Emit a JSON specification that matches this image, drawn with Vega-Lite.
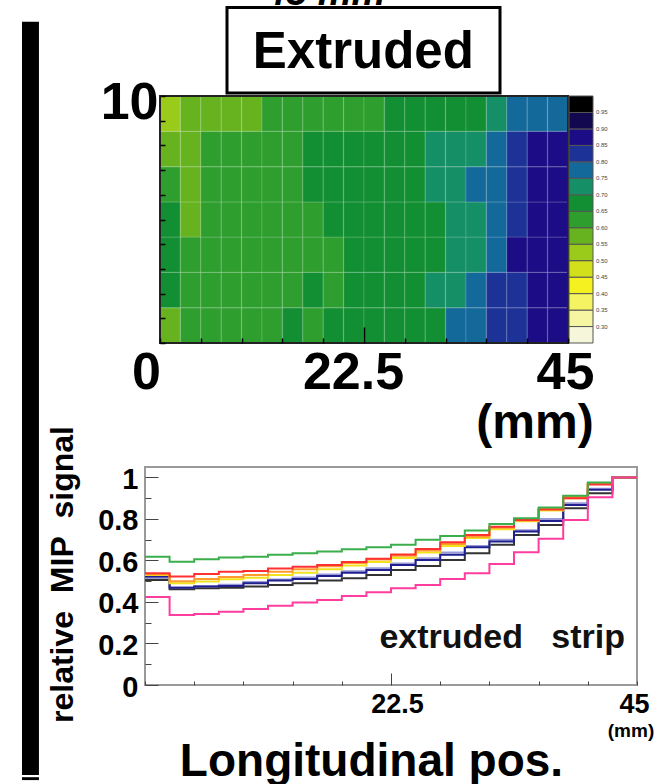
{
  "$schema": "https://vega.github.io/schema/vega-lite/v6.json",
  "width": 670,
  "height": 784,
  "autosize": "none",
  "padding": 0,
  "background": "white",
  "config": {
    "font": "Liberation Sans",
    "view": {"stroke": null},
    "axis": {"labelColor": "#000", "titleColor": "#000", "labelFont": "Liberation Sans", "titleFont": "Liberation Sans", "grid": false, "domain": false}
  },
  "resolve": {
    "scale": {"x": "independent", "y": "independent", "color": "independent"},
    "axis": {"x": "independent", "y": "independent"},
    "legend": {"color": "independent"}
  },
  "layer": [
    {
      "layer": [
        {
          "data": {"values": [
            {"x":0,"x2":2.25,"y":0,"y2":1.43,"v":0.575},{"x":2.25,"x2":4.5,"y":0,"y2":1.43,"v":0.625},{"x":4.5,"x2":6.75,"y":0,"y2":1.43,"v":0.625},{"x":6.75,"x2":9,"y":0,"y2":1.43,"v":0.625},{"x":9,"x2":11.25,"y":0,"y2":1.43,"v":0.625},{"x":11.25,"x2":13.5,"y":0,"y2":1.43,"v":0.625},{"x":13.5,"x2":15.75,"y":0,"y2":1.43,"v":0.675},{"x":15.75,"x2":18,"y":0,"y2":1.43,"v":0.625},{"x":18,"x2":20.25,"y":0,"y2":1.43,"v":0.675},{"x":20.25,"x2":22.5,"y":0,"y2":1.43,"v":0.675},{"x":22.5,"x2":24.75,"y":0,"y2":1.43,"v":0.675},{"x":24.75,"x2":27,"y":0,"y2":1.43,"v":0.675},{"x":27,"x2":29.25,"y":0,"y2":1.43,"v":0.675},{"x":29.25,"x2":31.5,"y":0,"y2":1.43,"v":0.675},{"x":31.5,"x2":33.75,"y":0,"y2":1.43,"v":0.775},{"x":33.75,"x2":36,"y":0,"y2":1.43,"v":0.775},{"x":36,"x2":38.25,"y":0,"y2":1.43,"v":0.825},{"x":38.25,"x2":40.5,"y":0,"y2":1.43,"v":0.825},{"x":40.5,"x2":42.75,"y":0,"y2":1.43,"v":0.875},{"x":42.75,"x2":45,"y":0,"y2":1.43,"v":0.875},
            {"x":0,"x2":2.25,"y":1.43,"y2":2.86,"v":0.675},{"x":2.25,"x2":4.5,"y":1.43,"y2":2.86,"v":0.625},{"x":4.5,"x2":6.75,"y":1.43,"y2":2.86,"v":0.625},{"x":6.75,"x2":9,"y":1.43,"y2":2.86,"v":0.625},{"x":9,"x2":11.25,"y":1.43,"y2":2.86,"v":0.625},{"x":11.25,"x2":13.5,"y":1.43,"y2":2.86,"v":0.625},{"x":13.5,"x2":15.75,"y":1.43,"y2":2.86,"v":0.625},{"x":15.75,"x2":18,"y":1.43,"y2":2.86,"v":0.675},{"x":18,"x2":20.25,"y":1.43,"y2":2.86,"v":0.625},{"x":20.25,"x2":22.5,"y":1.43,"y2":2.86,"v":0.675},{"x":22.5,"x2":24.75,"y":1.43,"y2":2.86,"v":0.675},{"x":24.75,"x2":27,"y":1.43,"y2":2.86,"v":0.675},{"x":27,"x2":29.25,"y":1.43,"y2":2.86,"v":0.675},{"x":29.25,"x2":31.5,"y":1.43,"y2":2.86,"v":0.725},{"x":31.5,"x2":33.75,"y":1.43,"y2":2.86,"v":0.725},{"x":33.75,"x2":36,"y":1.43,"y2":2.86,"v":0.775},{"x":36,"x2":38.25,"y":1.43,"y2":2.86,"v":0.825},{"x":38.25,"x2":40.5,"y":1.43,"y2":2.86,"v":0.825},{"x":40.5,"x2":42.75,"y":1.43,"y2":2.86,"v":0.875},{"x":42.75,"x2":45,"y":1.43,"y2":2.86,"v":0.875},
            {"x":0,"x2":2.25,"y":2.86,"y2":4.29,"v":0.675},{"x":2.25,"x2":4.5,"y":2.86,"y2":4.29,"v":0.625},{"x":4.5,"x2":6.75,"y":2.86,"y2":4.29,"v":0.625},{"x":6.75,"x2":9,"y":2.86,"y2":4.29,"v":0.625},{"x":9,"x2":11.25,"y":2.86,"y2":4.29,"v":0.625},{"x":11.25,"x2":13.5,"y":2.86,"y2":4.29,"v":0.625},{"x":13.5,"x2":15.75,"y":2.86,"y2":4.29,"v":0.625},{"x":15.75,"x2":18,"y":2.86,"y2":4.29,"v":0.625},{"x":18,"x2":20.25,"y":2.86,"y2":4.29,"v":0.625},{"x":20.25,"x2":22.5,"y":2.86,"y2":4.29,"v":0.675},{"x":22.5,"x2":24.75,"y":2.86,"y2":4.29,"v":0.675},{"x":24.75,"x2":27,"y":2.86,"y2":4.29,"v":0.675},{"x":27,"x2":29.25,"y":2.86,"y2":4.29,"v":0.675},{"x":29.25,"x2":31.5,"y":2.86,"y2":4.29,"v":0.675},{"x":31.5,"x2":33.75,"y":2.86,"y2":4.29,"v":0.725},{"x":33.75,"x2":36,"y":2.86,"y2":4.29,"v":0.725},{"x":36,"x2":38.25,"y":2.86,"y2":4.29,"v":0.775},{"x":38.25,"x2":40.5,"y":2.86,"y2":4.29,"v":0.875},{"x":40.5,"x2":42.75,"y":2.86,"y2":4.29,"v":0.875},{"x":42.75,"x2":45,"y":2.86,"y2":4.29,"v":0.875},
            {"x":0,"x2":2.25,"y":4.29,"y2":5.71,"v":0.675},{"x":2.25,"x2":4.5,"y":4.29,"y2":5.71,"v":0.575},{"x":4.5,"x2":6.75,"y":4.29,"y2":5.71,"v":0.625},{"x":6.75,"x2":9,"y":4.29,"y2":5.71,"v":0.625},{"x":9,"x2":11.25,"y":4.29,"y2":5.71,"v":0.625},{"x":11.25,"x2":13.5,"y":4.29,"y2":5.71,"v":0.625},{"x":13.5,"x2":15.75,"y":4.29,"y2":5.71,"v":0.625},{"x":15.75,"x2":18,"y":4.29,"y2":5.71,"v":0.625},{"x":18,"x2":20.25,"y":4.29,"y2":5.71,"v":0.675},{"x":20.25,"x2":22.5,"y":4.29,"y2":5.71,"v":0.675},{"x":22.5,"x2":24.75,"y":4.29,"y2":5.71,"v":0.675},{"x":24.75,"x2":27,"y":4.29,"y2":5.71,"v":0.675},{"x":27,"x2":29.25,"y":4.29,"y2":5.71,"v":0.675},{"x":29.25,"x2":31.5,"y":4.29,"y2":5.71,"v":0.675},{"x":31.5,"x2":33.75,"y":4.29,"y2":5.71,"v":0.725},{"x":33.75,"x2":36,"y":4.29,"y2":5.71,"v":0.725},{"x":36,"x2":38.25,"y":4.29,"y2":5.71,"v":0.775},{"x":38.25,"x2":40.5,"y":4.29,"y2":5.71,"v":0.825},{"x":40.5,"x2":42.75,"y":4.29,"y2":5.71,"v":0.875},{"x":42.75,"x2":45,"y":4.29,"y2":5.71,"v":0.875},
            {"x":0,"x2":2.25,"y":5.71,"y2":7.14,"v":0.625},{"x":2.25,"x2":4.5,"y":5.71,"y2":7.14,"v":0.575},{"x":4.5,"x2":6.75,"y":5.71,"y2":7.14,"v":0.625},{"x":6.75,"x2":9,"y":5.71,"y2":7.14,"v":0.625},{"x":9,"x2":11.25,"y":5.71,"y2":7.14,"v":0.625},{"x":11.25,"x2":13.5,"y":5.71,"y2":7.14,"v":0.625},{"x":13.5,"x2":15.75,"y":5.71,"y2":7.14,"v":0.625},{"x":15.75,"x2":18,"y":5.71,"y2":7.14,"v":0.675},{"x":18,"x2":20.25,"y":5.71,"y2":7.14,"v":0.675},{"x":20.25,"x2":22.5,"y":5.71,"y2":7.14,"v":0.675},{"x":22.5,"x2":24.75,"y":5.71,"y2":7.14,"v":0.675},{"x":24.75,"x2":27,"y":5.71,"y2":7.14,"v":0.675},{"x":27,"x2":29.25,"y":5.71,"y2":7.14,"v":0.675},{"x":29.25,"x2":31.5,"y":5.71,"y2":7.14,"v":0.725},{"x":31.5,"x2":33.75,"y":5.71,"y2":7.14,"v":0.725},{"x":33.75,"x2":36,"y":5.71,"y2":7.14,"v":0.775},{"x":36,"x2":38.25,"y":5.71,"y2":7.14,"v":0.775},{"x":38.25,"x2":40.5,"y":5.71,"y2":7.14,"v":0.825},{"x":40.5,"x2":42.75,"y":5.71,"y2":7.14,"v":0.875},{"x":42.75,"x2":45,"y":5.71,"y2":7.14,"v":0.875},
            {"x":0,"x2":2.25,"y":7.14,"y2":8.57,"v":0.575},{"x":2.25,"x2":4.5,"y":7.14,"y2":8.57,"v":0.575},{"x":4.5,"x2":6.75,"y":7.14,"y2":8.57,"v":0.625},{"x":6.75,"x2":9,"y":7.14,"y2":8.57,"v":0.625},{"x":9,"x2":11.25,"y":7.14,"y2":8.57,"v":0.625},{"x":11.25,"x2":13.5,"y":7.14,"y2":8.57,"v":0.625},{"x":13.5,"x2":15.75,"y":7.14,"y2":8.57,"v":0.625},{"x":15.75,"x2":18,"y":7.14,"y2":8.57,"v":0.675},{"x":18,"x2":20.25,"y":7.14,"y2":8.57,"v":0.675},{"x":20.25,"x2":22.5,"y":7.14,"y2":8.57,"v":0.675},{"x":22.5,"x2":24.75,"y":7.14,"y2":8.57,"v":0.675},{"x":24.75,"x2":27,"y":7.14,"y2":8.57,"v":0.675},{"x":27,"x2":29.25,"y":7.14,"y2":8.57,"v":0.675},{"x":29.25,"x2":31.5,"y":7.14,"y2":8.57,"v":0.725},{"x":31.5,"x2":33.75,"y":7.14,"y2":8.57,"v":0.725},{"x":33.75,"x2":36,"y":7.14,"y2":8.57,"v":0.725},{"x":36,"x2":38.25,"y":7.14,"y2":8.57,"v":0.775},{"x":38.25,"x2":40.5,"y":7.14,"y2":8.57,"v":0.825},{"x":40.5,"x2":42.75,"y":7.14,"y2":8.57,"v":0.875},{"x":42.75,"x2":45,"y":7.14,"y2":8.57,"v":0.875},
            {"x":0,"x2":2.25,"y":8.57,"y2":10,"v":0.525},{"x":2.25,"x2":4.5,"y":8.57,"y2":10,"v":0.575},{"x":4.5,"x2":6.75,"y":8.57,"y2":10,"v":0.575},{"x":6.75,"x2":9,"y":8.57,"y2":10,"v":0.575},{"x":9,"x2":11.25,"y":8.57,"y2":10,"v":0.575},{"x":11.25,"x2":13.5,"y":8.57,"y2":10,"v":0.625},{"x":13.5,"x2":15.75,"y":8.57,"y2":10,"v":0.625},{"x":15.75,"x2":18,"y":8.57,"y2":10,"v":0.625},{"x":18,"x2":20.25,"y":8.57,"y2":10,"v":0.625},{"x":20.25,"x2":22.5,"y":8.57,"y2":10,"v":0.625},{"x":22.5,"x2":24.75,"y":8.57,"y2":10,"v":0.625},{"x":24.75,"x2":27,"y":8.57,"y2":10,"v":0.675},{"x":27,"x2":29.25,"y":8.57,"y2":10,"v":0.675},{"x":29.25,"x2":31.5,"y":8.57,"y2":10,"v":0.675},{"x":31.5,"x2":33.75,"y":8.57,"y2":10,"v":0.675},{"x":33.75,"x2":36,"y":8.57,"y2":10,"v":0.675},{"x":36,"x2":38.25,"y":8.57,"y2":10,"v":0.725},{"x":38.25,"x2":40.5,"y":8.57,"y2":10,"v":0.775},{"x":40.5,"x2":42.75,"y":8.57,"y2":10,"v":0.775},{"x":42.75,"x2":45,"y":8.57,"y2":10,"v":0.775}
          ]},
          "mark": {"type": "rect", "stroke": "#ffffff", "strokeOpacity": 0.1, "strokeWidth": 1.5},
          "encoding": {
            "x": {"field": "x", "type": "quantitative",
              "scale": {"domain": [0, 45], "range": [160, 568], "nice": false, "zero": false},
              "axis": {"orient": "bottom", "offset": -441, "title": null, "zindex": 2,
                "values": [0,2.25,4.5,6.75,9,11.25,13.5,15.75,18,20.25,22.5,24.75,27,29.25,31.5,33.75,36,38.25,40.5,42.75,45],
                "labelExpr": "datum.value == 0 ? '0' : datum.value == 22.5 ? '22.5' : datum.value == 45 ? '45' : ''",
                "tickColor": "#000", "tickWidth": 1.5,
                "tickSize": {"condition": {"test": "datum.value == 22.5", "value": -16}, "value": -5},
                "labelPadding": {"condition": {"test": "datum.value == 22.5", "value": 61}, "value": 50},
                "labelFontSize": 52, "labelFontWeight": "bold", "labelBaseline": "alphabetic", "labelAlign": "center",
                "labelOffset": {"expr": "datum.value == 0 ? -14 : datum.value == 22.5 ? -11 : -3"},
                "labelFlush": false, "labelOverlap": false}},
            "x2": {"field": "x2"},
            "y": {"field": "y", "type": "quantitative",
              "scale": {"domain": [0, 10], "range": [343, 96], "nice": false, "zero": false},
              "axis": {"orient": "left", "offset": -160, "title": null, "zindex": 2,
                "values": [0,0.5,1,1.5,2,2.5,3,3.5,4,4.5,5,5.5,6,6.5,7,7.5,8,8.5,9,9.5,10],
                "labelExpr": "datum.value == 10 ? '10' : ''",
                "tickColor": "#000", "tickWidth": 1.5, "tickSize": -5,
                "labelPadding": 7, "labelFontSize": 52, "labelFontWeight": "bold",
                "labelBaseline": "alphabetic", "labelOffset": 22, "labelOverlap": false, "labelFlush": false}},
            "y2": {"field": "y2"},
            "color": {"field": "v", "type": "quantitative",
              "scale": {"type": "quantize", "domain": [0.25, 1.0], "nice": false, "zero": false,
                "range": ["#F6F6DA","#F5F5A2","#F5F362","#F5F020","#D2DF1B","#9BCB1A","#66B31F","#2E9E2E","#138F33","#159066","#13699A","#1D3296","#1C0C85","#120850","#000000"]},
              "legend": {"type": "gradient", "orient": "none", "legendX": 569, "legendY": 96, "direction": "vertical",
                "gradientLength": 247, "gradientThickness": 24, "title": null, "padding": 0,
                "gradientStrokeColor": "#555", "gradientStrokeWidth": 1,
                "labelFontSize": 6, "labelColor": "#444", "labelOffset": 3, "labelOverlap": true}}
          }
        },
        {
          "data": {"values": [{"x": 0, "x2": 45, "y": 0, "y2": 10}]},
          "mark": {"type": "rect", "fill": null, "fillOpacity": 0, "stroke": "#222", "strokeWidth": 2},
          "encoding": {
            "x": {"field": "x", "type": "quantitative"},
            "x2": {"field": "x2"},
            "y": {"field": "y", "type": "quantitative"},
            "y2": {"field": "y2"}
          }
        },
        {
          "data": {"values": [{"x": 7.39, "x2": 37.5, "y": 10.12, "y2": 13.58}]},
          "mark": {"type": "rect", "fill": "white", "stroke": "#000", "strokeWidth": 3},
          "encoding": {
            "x": {"field": "x", "type": "quantitative"},
            "x2": {"field": "x2"},
            "y": {"field": "y", "type": "quantitative"},
            "y2": {"field": "y2"}
          }
        },
        {
          "data": {"values": [{"x": 22.43, "y": 11.14, "t": "Extruded"}]},
          "mark": {"type": "text", "fontSize": 51, "fontWeight": "bold", "align": "center", "baseline": "alphabetic", "color": "#000"},
          "encoding": {
            "x": {"field": "x", "type": "quantitative"},
            "y": {"field": "y", "type": "quantitative"},
            "text": {"field": "t"}
          }
        },
        {
          "data": {"values": [{"x": 18.2, "y": 13.7, "t": "45 mm"}]},
          "mark": {"type": "text", "fontSize": 38, "fontWeight": "bold", "fontStyle": "italic", "align": "center", "baseline": "alphabetic", "color": "#000"},
          "encoding": {
            "x": {"field": "x", "type": "quantitative"},
            "y": {"field": "y", "type": "quantitative"},
            "text": {"field": "t"}
          }
        },
        {
          "data": {"values": [{"x": 41.36, "y": -3.85, "t": "(mm)"}]},
          "mark": {"type": "text", "fontSize": 48, "fontWeight": "bold", "align": "center", "baseline": "alphabetic", "color": "#000"},
          "encoding": {
            "x": {"field": "x", "type": "quantitative"},
            "y": {"field": "y", "type": "quantitative"},
            "text": {"field": "t"}
          }
        }
      ]
    },
    {
      "layer": [
        {
          "data": {"values": [{"x": 0, "x2": 45, "y": 0, "y2": 1.05}]},
          "mark": {"type": "rect", "fill": null, "fillOpacity": 0, "stroke": "#9a9a9a", "strokeWidth": 2},
          "encoding": {
            "x": {"field": "x", "type": "quantitative",
              "scale": {"domain": [0, 45], "range": [145, 637], "nice": false, "zero": false},
              "axis": {"orient": "bottom", "offset": -99, "zindex": 2,
                "title": "Longitudinal pos.", "titleFontSize": 46, "titleFontWeight": "bold",
                "titleX": 371, "titleY": 90, "titleBaseline": "alphabetic", "titleAlign": "center",
                "values": [0,1.125,2.25,3.375,4.5,5.625,6.75,7.875,9,10.125,11.25,12.375,13.5,14.625,15.75,16.875,18,19.125,20.25,21.375,22.5,23.625,24.75,25.875,27,28.125,29.25,30.375,31.5,32.625,33.75,34.875,36,37.125,38.25,39.375,40.5,41.625,42.75,43.875,45],
                "labelExpr": "datum.value == 22.5 ? '22.5' : datum.value == 45 ? '45' : ''",
                "tickColor": "#444", "tickWidth": 1,
                "tickSize": {"condition": {"test": "datum.value == 22.5", "value": -12}, "value": -4},
                "labelPadding": {"condition": {"test": "datum.value == 22.5", "value": 39}, "value": 31},
                "labelFontSize": 27, "labelFontWeight": "bold", "labelBaseline": "alphabetic", "labelAlign": "center",
                "labelOffset": {"expr": "datum.value == 22.5 ? 6 : -3"},
                "labelFlush": false, "labelOverlap": false}},
            "x2": {"field": "x2"},
            "y": {"field": "y", "type": "quantitative",
              "scale": {"domain": [0, 1.05], "range": [685, 467], "nice": false, "zero": false},
              "axis": {"orient": "left", "offset": -145, "zindex": 2,
                "title": "relative\u00a0\u00a0MIP\u00a0\u00a0signal", "titleFontSize": 32, "titleFontWeight": "bold",
                "titleX": -73, "titleY": 574, "titleAngle": 270, "titleBaseline": "alphabetic", "titleAlign": "center",
                "values": [0,0.05,0.1,0.15,0.2,0.25,0.3,0.35,0.4,0.45,0.5,0.55,0.6,0.65,0.7,0.75,0.8,0.85,0.9,0.95,1,1.05],
                "labelExpr": "datum.value == 0 ? '0' : datum.value == 0.2 ? '0.2' : datum.value == 0.4 ? '0.4' : datum.value == 0.6 ? '0.6' : datum.value == 0.8 ? '0.8' : datum.value == 1 ? '1' : ''",
                "tickColor": "#444", "tickWidth": 1,
                "tickSize": {"condition": {"test": "datum.value == 0 || datum.value == 0.2 || datum.value == 0.4 || datum.value == 0.6 || datum.value == 0.8 || datum.value == 1", "value": -13}, "value": -6},
                "labelPadding": {"condition": {"test": "datum.value == 0 || datum.value == 0.2 || datum.value == 0.4 || datum.value == 0.6 || datum.value == 0.8 || datum.value == 1", "value": 20}, "value": 13},
                "labelFontSize": 29, "labelFontWeight": "bold", "labelBaseline": "middle",
                "labelOffset": 2, "labelFlush": false, "labelOverlap": false}},
            "y2": {"field": "y2"}
          }
        },
        {
          "data": {"values": [
            {"x":0,"green":0.618,"red":0.538,"orange":0.534,"yellow":0.530,"lavender":0.515,"navy":0.522,"black":0.506,"pink":0.424},
            {"x":2.25,"green":0.594,"red":0.522,"orange":0.500,"yellow":0.490,"lavender":0.470,"navy":0.469,"black":0.461,"pink":0.337},
            {"x":4.5,"green":0.606,"red":0.535,"orange":0.510,"yellow":0.498,"lavender":0.476,"navy":0.474,"black":0.466,"pink":0.342},
            {"x":6.75,"green":0.614,"red":0.545,"orange":0.520,"yellow":0.509,"lavender":0.483,"navy":0.477,"black":0.469,"pink":0.353},
            {"x":9,"green":0.618,"red":0.549,"orange":0.530,"yellow":0.517,"lavender":0.496,"navy":0.490,"black":0.474,"pink":0.366},
            {"x":11.25,"green":0.627,"red":0.561,"orange":0.545,"yellow":0.530,"lavender":0.508,"navy":0.503,"black":0.482,"pink":0.382},
            {"x":13.5,"green":0.635,"red":0.570,"orange":0.557,"yellow":0.541,"lavender":0.518,"navy":0.511,"black":0.490,"pink":0.397},
            {"x":15.75,"green":0.643,"red":0.578,"orange":0.572,"yellow":0.557,"lavender":0.532,"navy":0.525,"black":0.503,"pink":0.410},
            {"x":18,"green":0.654,"red":0.592,"orange":0.588,"yellow":0.575,"lavender":0.548,"navy":0.541,"black":0.514,"pink":0.429},
            {"x":20.25,"green":0.664,"red":0.608,"orange":0.604,"yellow":0.592,"lavender":0.562,"navy":0.554,"black":0.530,"pink":0.447},
            {"x":22.5,"green":0.675,"red":0.628,"orange":0.623,"yellow":0.612,"lavender":0.585,"navy":0.578,"black":0.554,"pink":0.466},
            {"x":24.75,"green":0.699,"red":0.655,"orange":0.648,"yellow":0.638,"lavender":0.610,"navy":0.602,"black":0.573,"pink":0.482},
            {"x":27,"green":0.718,"red":0.688,"orange":0.679,"yellow":0.670,"lavender":0.638,"navy":0.627,"black":0.602,"pink":0.511},
            {"x":29.25,"green":0.744,"red":0.722,"orange":0.714,"yellow":0.708,"lavender":0.670,"navy":0.663,"black":0.634,"pink":0.538},
            {"x":31.5,"green":0.776,"red":0.762,"orange":0.757,"yellow":0.750,"lavender":0.700,"navy":0.691,"black":0.675,"pink":0.583},
            {"x":33.75,"green":0.803,"red":0.795,"orange":0.792,"yellow":0.789,"lavender":0.745,"navy":0.739,"black":0.723,"pink":0.639},
            {"x":36,"green":0.855,"red":0.845,"orange":0.848,"yellow":0.840,"lavender":0.800,"navy":0.790,"black":0.771,"pink":0.704},
            {"x":38.25,"green":0.912,"red":0.900,"orange":0.905,"yellow":0.900,"lavender":0.875,"navy":0.867,"black":0.851,"pink":0.795},
            {"x":40.5,"green":0.975,"red":0.966,"orange":0.970,"yellow":0.968,"lavender":0.945,"navy":0.940,"black":0.923,"pink":0.904},
            {"x":42.75,"green":1.0,"red":1.0,"orange":1.0,"yellow":1.0,"lavender":1.0,"navy":1.0,"black":1.0,"pink":1.0},
            {"x":45,"green":1.0,"red":1.0,"orange":1.0,"yellow":1.0,"lavender":1.0,"navy":1.0,"black":1.0,"pink":1.0}
          ]},
          "transform": [{"fold": ["black","lavender","navy","yellow","orange","red","green","pink"], "as": ["s", "y"]}],
          "mark": {"type": "line", "interpolate": "step-after", "strokeWidth": 2},
          "encoding": {
            "x": {"field": "x", "type": "quantitative"},
            "y": {"field": "y", "type": "quantitative"},
            "color": {"field": "s", "type": "nominal", "legend": null,
              "scale": {"domain": ["black","lavender","navy","yellow","orange","red","green","pink"],
                "range": ["#333333","#9a9ad8","#1f1f8f","#f2e21e","#ff9a30","#ff3030","#3aae4a","#ff3d9e"]}}
          }
        },
        {
          "data": {"values": [{"x": 45, "y": 0.178, "t": "extruded\u00a0\u00a0\u00a0strip"}]},
          "mark": {"type": "text", "fontSize": 34, "fontWeight": "bold", "align": "right", "baseline": "alphabetic", "dx": -12, "color": "#111"},
          "encoding": {
            "x": {"field": "x", "type": "quantitative"},
            "y": {"field": "y", "type": "quantitative"},
            "text": {"field": "t"}
          }
        },
        {
          "data": {"values": [{"x": 45, "y": -0.252, "t": "(mm)"}]},
          "mark": {"type": "text", "fontSize": 19, "fontWeight": "bold", "align": "center", "baseline": "alphabetic", "dx": -6, "color": "#000"},
          "encoding": {
            "x": {"field": "x", "type": "quantitative"},
            "y": {"field": "y", "type": "quantitative"},
            "text": {"field": "t"}
          }
        },
        {
          "data": {"values": [{"x": -11.25, "x2": -9.7, "y": -0.434, "y2": 3.195}, {"x": -11.25, "x2": -9.7, "y": -0.458, "y2": -0.444}]},
          "mark": {"type": "rect", "fill": "#000"},
          "encoding": {
            "x": {"field": "x", "type": "quantitative"},
            "x2": {"field": "x2"},
            "y": {"field": "y", "type": "quantitative"},
            "y2": {"field": "y2"}
          }
        }
      ]
    }
  ]
}
